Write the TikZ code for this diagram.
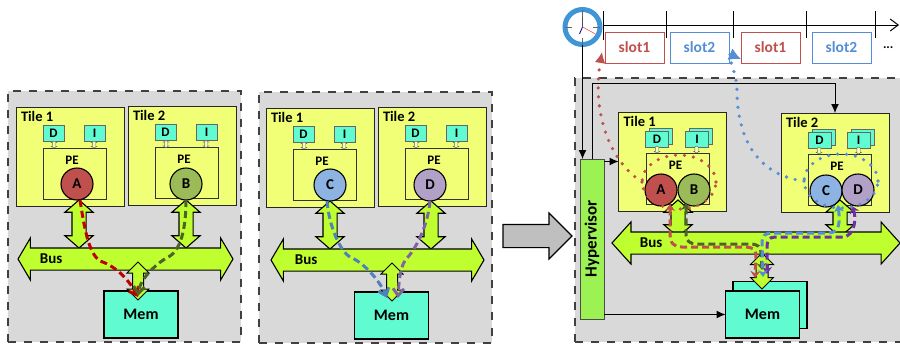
\documentclass[tikz,border=0pt]{standalone}
\usepackage{fontspec}
\setmainfont{Carlito}
\usetikzlibrary{positioning,shapes.arrows,shapes.geometric,arrows.meta}
\definecolor{panelgray}{HTML}{D9D9D9}
\definecolor{tileyellow}{HTML}{F0FF75}
\definecolor{buslime}{HTML}{BFFF30}
\definecolor{memteal}{HTML}{60FBD0}
\definecolor{hypgreen}{HTML}{9CF252}
\definecolor{corered}{HTML}{C0504D}
\definecolor{coregreen}{HTML}{9BBB59}
\definecolor{coreblue}{HTML}{8DB3E2}
\definecolor{corepurple}{HTML}{B2A1C7}
\definecolor{darkred}{HTML}{C00000}
\definecolor{darkgreen}{HTML}{4F6228}
\definecolor{flowblue}{HTML}{4F81BD}
\definecolor{flowpurple}{HTML}{7030A0}
\definecolor{softpurple}{HTML}{8064A2}
\definecolor{dotblue}{HTML}{558ED5}
\definecolor{clockblue}{HTML}{3E96D6}
\tikzset{
  every node/.style={outer sep=0pt,inner sep=0pt},
  panelbox/.style={draw=black!75,fill=panelgray,line width=2pt,dash pattern=on 8pt off 8pt,anchor=north west},
  tilebox/.style={draw=black!85,fill=tileyellow,line width=1pt,minimum width=108pt,minimum height=99pt},
  pebox/.style={draw=black!80,fill=tileyellow,line width=1pt,minimum width=63pt,minimum height=51pt},
  cachebox/.style={draw=black!60,fill=memteal,line width=.6pt,minimum width=21pt,minimum height=16pt,font=\bfseries\fontsize{13}{13}\selectfont},
  membox/.style={draw=black,fill=memteal,line width=1.1pt,minimum width=74pt,minimum height=47pt,font=\bfseries\fontsize{16}{16}\selectfont},
  core/.style={circle,draw=black,line width=1.1pt,minimum size=32pt,font=\bfseries\fontsize{15}{15}\selectfont},
  tilelabel/.style={font=\bfseries\fontsize{14.5}{14.5}\selectfont},
  pelabel/.style={font=\bfseries\fontsize{13}{13}\selectfont},
  buslabel/.style={font=\bfseries\fontsize{15}{15}\selectfont},
  busarrow/.style={double arrow,draw=black,fill=buslime,line width=1.1pt,inner ysep=10.5pt,double arrow head extend=10pt,double arrow tip angle=119,minimum height=215pt},
  linkarrow/.style={double arrow,rotate=90,draw=black,fill=buslime,line width=1.1pt,inner ysep=6.5pt,double arrow head extend=7pt,double arrow tip angle=98,minimum height=48pt},
  memarrow/.style={double arrow,rotate=90,draw=black,fill=buslime,line width=1pt,inner ysep=5pt,double arrow head extend=5.5pt,double arrow tip angle=90,minimum height=38pt},
  tinylink/.style={double arrow,rotate=90,draw=black!60,fill=tileyellow!60!white,line width=.4pt,inner ysep=1.5pt,double arrow head extend=1pt,double arrow tip angle=120,minimum height=7pt},
  slotbox/.style={draw=#1,fill=white,line width=.9pt,text=#1,minimum width=59pt,minimum height=31pt,font=\bfseries\fontsize{15.5}{15.5}\selectfont},
  flow/.style={line width=3pt,dash pattern=on 7pt off 4pt,draw=#1},
  dotflow/.style={draw=#1,line width=3.6pt,line cap=round,dash pattern=on 0pt off 9pt},
  wire/.style={draw=black,line width=1pt,-{Latex[length=9pt,width=8pt]}},
  barbtip/.style={-{Straight Barb[length=7pt,width=11pt]}},
  bothtip/.style={{Stealth[length=7pt,width=10pt]}-{Stealth[length=7pt,width=10pt]}},
  clocktick/.style={line width=.7pt,black!60}
}
\begin{document}
\begin{tikzpicture}[x=1pt,y=-1pt]
\useasboundingbox (0,0) rectangle (900,343);
%the first platform
\node [panelbox,minimum width=233pt,minimum height=251pt] (box1) at (8,91) {};
\node [tilebox] (tile11) at (70,156.5) {};
\node [tilebox,right=4pt of tile11,yshift=1pt] (tile12) {};
\node [tilelabel,below right=9pt and 5pt of tile11.north west,anchor=west] (lbl11) {Tile 1};
\node [tilelabel,below right=9pt and 5pt of tile12.north west,anchor=west] (lbl12) {Tile 2};
\node [cachebox,below right=18pt and 27pt of tile11.north west] (d11) {D};
\node [cachebox,right=20pt of d11] (i11) {I};
\node [cachebox,below right=18pt and 27pt of tile12.north west] (d12) {D};
\node [cachebox,right=20pt of d12] (i12) {I};
\node [pebox,below right=41pt and 27pt of tile11.north west] (pe11) {};
\node [pebox,below right=41pt and 27pt of tile12.north west] (pe12) {};
\node [tinylink] (td11) at (54,144.5) {};
\node [tinylink] (ti11) at (94,144.5) {};
\node [tinylink] (td12) at (166,144) {};
\node [tinylink] (ti12) at (206,144) {};
\node [pelabel,below=8pt of pe11.north,xshift=-2.5pt] (pl11) {PE};
\node [pelabel,below=8pt of pe12.north,xshift=-2.5pt] (pl12) {PE};
\node [linkarrow] (link11) at (79,224) {};
\node [linkarrow] (link12) at (186,224) {};
\node [busarrow] (bus1) at (125.5,259) {};
\node [buslabel,right=22pt of bus1.west] (buslbl1) {Bus};
\node [membox] (mem1) at (141,314.5) {Mem};
\node [memarrow] (mlink1) at (138,281) {};
\node [core,fill=corered] (coreA) at (77,184) {A};
\node [core,fill=coregreen] (coreB) at (186,184) {B};
%flows of the first platform
\draw [flow=darkred,barbtip] ([xshift=3pt]coreA.south) .. controls +(4,25) and +(-12,-8) .. (100,261) .. controls +(18,6) and +(-8,-15) .. ([yshift=3pt]mlink1.west);
\draw [flow=darkgreen,barbtip] (coreB.south) .. controls +(0,25) and +(12,-8) .. (170,256) .. controls +(-12,6) and +(2,-18) .. ([yshift=4pt]mlink1.west);

%the second platform
\node [panelbox,minimum width=233pt,minimum height=251pt] (box2) at (259,92) {};
\node [tilebox] (tile21) at (320,157.5) {};
\node [tilebox,right=4pt of tile21,yshift=1pt] (tile22) {};
\node [tilelabel,below right=9pt and 5pt of tile21.north west,anchor=west] (lbl21) {Tile 1};
\node [tilelabel,below right=9pt and 5pt of tile22.north west,anchor=west] (lbl22) {Tile 2};
\node [cachebox,below right=18pt and 27pt of tile21.north west] (d21) {D};
\node [cachebox,right=20pt of d21] (i21) {I};
\node [cachebox,below right=18pt and 27pt of tile22.north west] (d22) {D};
\node [cachebox,right=20pt of d22] (i22) {I};
\node [pebox,below right=41pt and 27pt of tile21.north west] (pe21) {};
\node [pebox,below right=41pt and 27pt of tile22.north west] (pe22) {};
\node [tinylink] (td21) at (304,145.5) {};
\node [tinylink] (ti21) at (344,145.5) {};
\node [tinylink] (td22) at (416,144.5) {};
\node [tinylink] (ti22) at (456,144.5) {};
\node [pelabel,below=8pt of pe21.north,xshift=-2.5pt] (pl21) {PE};
\node [pelabel,below=8pt of pe22.north,xshift=-2.5pt] (pl22) {PE};
\node [linkarrow] (link21) at (330,225) {};
\node [linkarrow] (link22) at (431,225) {};
\node [busarrow,minimum height=213pt] (bus2) at (377.5,260) {};
\node [buslabel,right=24pt of bus2.west] (buslbl2) {Bus};
\node [membox] (mem2) at (391.5,315.5) {Mem};
\node [memarrow] (mlink2) at (392,282) {};
\node [core,fill=coreblue] (coreC) at (330,185) {C};
\node [core,fill=corepurple] (coreD) at (430,185) {D};
%flows of the second platform
\draw [flow=flowblue,barbtip] ([xshift=-3pt]coreC.south) .. controls +(2,25) and +(-10,-6) .. (350,257) .. controls +(15,6) and +(-6,-15) .. ([xshift=-5pt,yshift=3pt]mlink2.west);
\draw [flow=softpurple,barbtip] (coreD.south) .. controls +(-2,25) and +(8,-8) .. (407,258) .. controls +(-6,6) and +(1,-20) .. ([xshift=6pt,yshift=3pt]mlink2.west);

%the big arrow between
\node [single arrow,draw=black,fill=black!25,line width=1.1pt,inner ysep=11pt,single arrow head extend=11.5pt,single arrow tip angle=90,minimum height=69pt,anchor=tail] (shift) at (503,236) {};

%the third platform
\node [panelbox,minimum width=340pt,minimum height=264pt] (box3) at (575,78) {};
\node [tilebox] (tile31) at (672.5,161.5) {};
\node [tilebox] (tile32) at (835,162.5) {};
\node [tilelabel,below right=9pt and 5pt of tile31.north west,anchor=west] (lbl31) {Tile 1};
\node [tilelabel,below right=9pt and 5pt of tile32.north west,anchor=west] (lbl32) {Tile 2};
\node [cachebox,minimum width=23pt,below right=16pt and 31pt of tile31.north west] (d31b) {};
\node [cachebox,minimum width=23pt,below right=19pt and 27pt of tile31.north west] (d31) {D};
\node [cachebox,minimum width=23pt,below right=16pt and 71pt of tile31.north west] (i31b) {};
\node [cachebox,minimum width=23pt,below right=19pt and 67pt of tile31.north west] (i31) {I};
\node [cachebox,minimum width=23pt,below right=16pt and 31pt of tile32.north west] (d32b) {};
\node [cachebox,minimum width=23pt,below right=19pt and 27pt of tile32.north west] (d32) {D};
\node [cachebox,minimum width=23pt,below right=16pt and 70pt of tile32.north west] (i32b) {};
\node [cachebox,minimum width=23pt,below right=19pt and 66pt of tile32.north west] (i32) {I};
\node [pebox,below right=41pt and 28pt of tile31.north west] (pe31) {};
\node [pebox,below right=41pt and 27pt of tile32.north west] (pe32) {};
\node [tinylink] (td31) at (657,149.5) {};
\node [tinylink] (ti31) at (696.5,149.5) {};
\node [tinylink] (td32) at (819,150.5) {};
\node [tinylink] (ti32) at (858.5,150.5) {};
\node [pelabel,below=8pt of pe31.north,xshift=-2.5pt] (pl31) {PE};
\node [pelabel,below=8pt of pe32.north,xshift=-2.5pt] (pl32) {PE};
\node [linkarrow,minimum height=37pt] (link31) at (678,218.5) {};
\node [linkarrow,minimum height=37pt] (link32) at (840,218.5) {};
\node [busarrow,minimum height=288pt,double arrow tip angle=96] (bus3) at (756,243) {};
\node [buslabel,right=28pt of bus3.west] (buslbl3) {Bus};
\node [membox] (mem3b) at (770,305) {};
\node [membox] (mem3) at (762.5,314.5) {Mem};
\node [memarrow,inner ysep=5.5pt,double arrow head extend=5.5pt,minimum height=36pt] (mlink3) at (762,271) {};
\node [core,fill=corered] (core3A) at (661,190) {A};
\node [core,fill=coregreen] (core3B) at (694,190) {B};
\node [core,fill=coreblue] (core3C) at (826,191) {C};
\node [core,fill=corepurple] (core3D) at (858,190) {D};
\node [fill=hypgreen,draw=black!70,line width=.8pt,minimum width=24pt,minimum height=160pt] (hyp) at (592,239) {};
\node [rotate=90,font=\bfseries\fontsize{17}{17}\selectfont] (hyplbl) at (592,239) {Hypervisor};

%the time line
\coordinate (timestart) at (603,25);
\coordinate (timeend) at (899,25);
\draw [line width=1pt,-{Straight Barb[length=8pt,width=12pt]}] (timestart) -- (timeend);
\coordinate (tick1) at (603,11);
\coordinate (tick2) at (666,11);
\coordinate (tick3) at (733,11);
\coordinate (tick4) at (806,11);
\coordinate (tick5) at (875,11);
\draw [line width=.8pt] (tick1) -- +(0,29);
\draw [line width=.8pt] (tick2) -- +(0,27);
\draw [line width=.8pt] (tick3) -- +(0,27);
\draw [line width=.8pt] (tick4) -- +(0,27);
\draw [line width=.8pt] (tick5) -- +(0,27);
\node [slotbox=corered] (slot1) at (634.5,47.5) {slot1};
\node [slotbox=dotblue,right=6pt of slot1] (slot2) {slot2};
\node [slotbox=corered,right=12pt of slot2] (slot3) {slot1};
\node [slotbox=dotblue,right=12pt of slot3] (slot4) {slot2};
\node [right=12pt of slot4,font=\bfseries\fontsize{13}{13}\selectfont] (more) {...};

%the clock
\node [circle,fill=white,line width=5pt,draw=clockblue,minimum size=35pt] (clock) at (582.5,27) {};
\draw [line width=.7pt,black!70] (clock.center) -- +(0,-13);
\draw [line width=.8pt,blue!60!black] (clock.center) -- +(-3,7);
\draw [line width=.6pt,red!70] (clock.center) -- +(13,7);
\draw [clocktick] (clock.north) -- +(0,7);
\draw [clocktick] (clock.south) -- +(0,-7);
\draw [clocktick] (clock.west) -- +(7,0);
\draw [clocktick] (clock.east) -- +(-7,0);

%wires of the hypervisor
\coordinate (topturn) at (592,83);
\draw [wire] (clock.south) -- (clock.south |- hyp.north);
\draw [wire] (hyp.north) -- (topturn) -| (tile32.north);
\draw [wire] (hyp.east |- tile31.west) -- (tile31.west);
\draw [wire] (hyp.east |- mem3.west) -- (mem3.west);

%flows of the third platform
\draw [flow=corered,bothtip] ([xshift=9pt,yshift=2pt]core3A.south) -- (670,232) .. controls +(0,11) and +(-9,0) .. (682,247) -- (745,247) .. controls +(7,0) and +(0,-7) .. (756,256) -- ([shift={(-7pt,11pt)}]mlink3.west);
\draw [flow=darkgreen,bothtip] ([shift={(-8pt,3pt)}]core3B.south) -- (686,235) .. controls +(0,6) and +(-7,0) .. (697,244) -- (750,244) .. controls +(8,0) and +(0,-6) .. (761,253) -- ([yshift=19pt]mlink3.west);
\draw [flow=flowpurple,bothtip] ([xshift=-6pt]core3D.south) .. controls +(4,10) and +(14,0) .. (842,237) -- (775,237) .. controls +(-6,0) and +(0,-6) .. (767,247) -- ([shift={(5pt,15pt)}]mlink3.west);
\draw [flow=dotblue,bothtip] ([shift={(12pt,2pt)}]core3C.south) .. controls +(2,17) and +(12,0) .. (828,233) -- (772,233) .. controls +(-7,0) and +(0,-6) .. (762,242) -- ([shift={(1pt,12pt)}]mlink3.west);

%the dotted loops round the cores
\node [ellipse,dotflow=corered,minimum width=74pt,minimum height=54pt] (loopAB) at (679,182) {};
\node [ellipse,dotflow=dotblue,minimum width=74pt,minimum height=54pt] (loopCD) at (841,181) {};
\draw [dotflow=corered,-{Latex[length=11pt,width=11pt]}] (loopAB.west) .. controls (608,160) and (592,110) .. ([shift={(-3pt,11pt)}]slot1.south west);
\draw [dotflow=dotblue,-{Latex[length=12pt,width=13pt]}] (loopCD.west) .. controls (755,175) and (737,135) .. (737,90) .. controls (737,72) and (725,52) .. ([yshift=4pt]slot3.south west);
\end{tikzpicture}
\end{document}
